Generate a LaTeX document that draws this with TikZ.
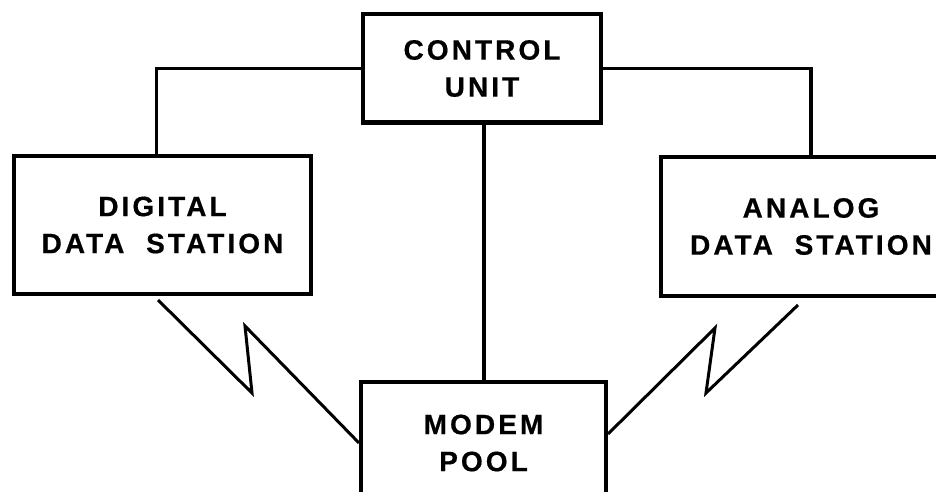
\documentclass[tikz,border=0pt]{standalone}
\usepackage{fontspec}
\setmainfont{Liberation Sans}
\newfontfamily\boxfont{Liberation Sans Bold}[LetterSpace=11, FakeBold=0.6]
\usepackage{tikz}
\tikzset{
  unitbox/.style={draw, line width=2pt, align=center, inner sep=0pt,
                  font=\boxfont\fontsize{14}{18.5}\selectfont},
  wire/.style={line width=1.75pt},
  radiolink/.style={line width=1.5pt, line join=miter},
}

\begin{document}
\begin{tikzpicture}[x=0.5pt, y=-0.5pt]
    \useasboundingbox (0,0) rectangle (936,492);
    \clip (0,0) rectangle (936,492);
    \node[unitbox, minimum width=119pt, minimum height=54pt] (cu) at (482,68.5) {CONTROL\\UNIT};
    \node[unitbox, minimum width=148.5pt, minimum height=69pt] (dig) at (162.5,225) {DIGITAL\\DATA\ \ STATION};
    \node[unitbox, minimum width=150pt, minimum height=69.5pt] (ana) at (811,226.5) {ANALOG\\DATA\ \ STATION};
    \node[unitbox, minimum width=122.5pt, minimum height=61pt] (mp) at (483.5,443) {MODEM\\POOL};
    \draw[wire] (cu.west) -| ([xshift=-3pt]dig.north);
    \draw[wire] (cu.east) -| (ana.north);
    \draw[wire] ([xshift=1pt]cu.south) -- ([xshift=1pt]cu.south |- mp.north);
    \draw[radiolink] ([xshift=-2.25pt,yshift=-2pt]dig.south) -- (252,393) -- (245,326) -- (mp.west);
    \draw[radiolink] ([xshift=-6.5pt,yshift=-3.5pt]ana.south) -- (706,393) -- (715,328) -- ([yshift=4.5pt]mp.east);
  \end{tikzpicture}
\end{document}
